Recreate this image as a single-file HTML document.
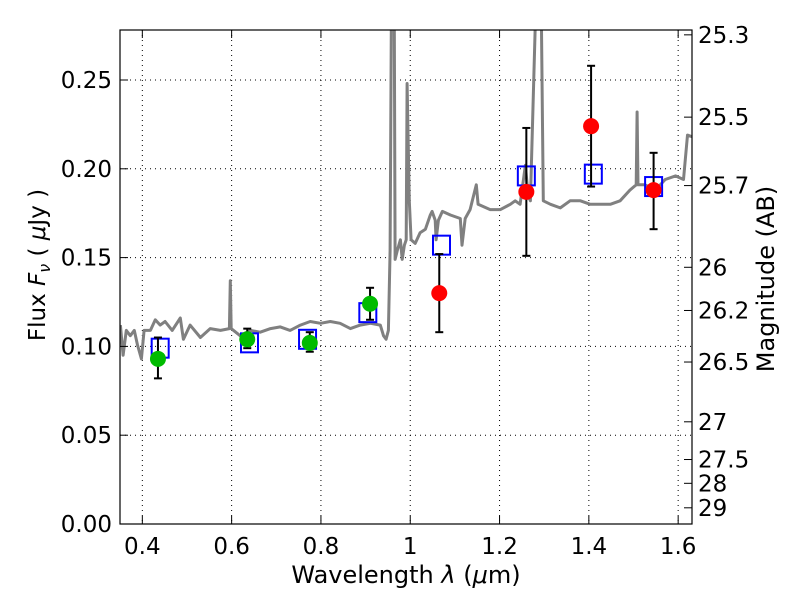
<!DOCTYPE html>
<html><head><meta charset="utf-8"><style>
body{margin:0;background:#fff}
svg text{font-family:"DejaVu Sans","Liberation Sans",sans-serif;fill:#000}
</style></head><body>
<svg id="chart" width="800" height="600" xmlns="http://www.w3.org/2000/svg">
<defs><clipPath id="clip"><rect x="120" y="30" width="572" height="494"/></clipPath></defs>
<g id="grid"></g>
<g id="plot" clip-path="url(#clip)"></g>
<g id="marks"></g>
<rect x="120" y="30" width="572" height="494" fill="none" stroke="#000" stroke-width="1.2"/>
<g id="axes"></g>
<text x="406" y="583" font-size="24" text-anchor="middle">Wavelength  <tspan font-style="italic">λ</tspan> (<tspan font-style="italic">μ</tspan>m)</text>
<text transform="translate(45,265) rotate(-90)" font-size="23" text-anchor="middle">Flux  <tspan font-style="italic">F<tspan font-size="16" dy="5">ν</tspan></tspan><tspan dy="-5">  (  <tspan font-style="italic">μ</tspan>Jy )</tspan></text>
<text transform="translate(774,279) rotate(-90)" font-size="24" text-anchor="middle">Magnitude (AB)</text>
</svg>
<script>
const specLam=[0.351,0.357,0.364,0.373,0.382,0.389,0.398,0.404,0.418,0.429,0.440,0.451,0.467,0.485,0.492,0.507,0.530,0.552,0.575,0.595,0.597,0.599,0.619,0.642,0.664,0.687,0.709,0.731,0.754,0.776,0.799,0.821,0.843,0.866,0.888,0.911,0.933,0.940,0.946,0.951,0.955,0.958,0.964,0.966,0.971,0.978,0.982,0.987,0.991,0.993,0.998,1.002,1.011,1.022,1.034,1.045,1.049,1.056,1.058,1.063,1.072,1.090,1.112,1.116,1.123,1.134,1.148,1.152,1.179,1.202,1.224,1.235,1.246,1.258,1.264,1.269,1.282,1.293,1.298,1.314,1.336,1.358,1.381,1.403,1.425,1.448,1.470,1.492,1.506,1.508,1.510,1.526,1.549,1.571,1.594,1.612,1.621,1.632];
const specFlux=[0.112,0.095,0.109,0.106,0.109,0.101,0.093,0.109,0.109,0.115,0.112,0.114,0.109,0.116,0.104,0.112,0.105,0.110,0.109,0.110,0.137,0.110,0.106,0.109,0.108,0.110,0.111,0.109,0.112,0.114,0.113,0.114,0.113,0.110,0.112,0.113,0.112,0.106,0.104,0.109,0.154,0.300,0.300,0.149,0.154,0.160,0.149,0.157,0.160,0.248,0.182,0.160,0.158,0.164,0.166,0.174,0.176,0.171,0.160,0.171,0.176,0.174,0.172,0.157,0.172,0.177,0.191,0.180,0.177,0.177,0.180,0.182,0.180,0.202,0.185,0.182,0.300,0.300,0.182,0.180,0.178,0.182,0.182,0.180,0.180,0.180,0.182,0.188,0.191,0.232,0.191,0.191,0.188,0.194,0.196,0.194,0.219,0.218];
const photLam=[0.435,0.635,0.775,0.91,1.065,1.26,1.405,1.545];
const photFlux=[0.093,0.104,0.102,0.124,0.130,0.187,0.224,0.188];
const errLo=[0.082,0.099,0.097,0.115,0.108,0.151,0.190,0.166];
const errHi=[0.105,0.110,0.108,0.133,0.152,0.223,0.258,0.209];
const photColor=['green','green','green','green','red','red','red','red'];
const modelLam=[0.44,0.64,0.77,0.905,1.07,1.26,1.41,1.545];
const modelFlux=[0.099,0.102,0.104,0.119,0.157,0.196,0.197,0.190];
const xTicks=[0.4,0.6,0.8,1.0,1.2,1.4,1.6];
const xTickLabels=['0.4','0.6','0.8','1','1.2','1.4','1.6'];
const yTicks=[0,0.05,0.10,0.15,0.20,0.25];
const yTickLabels=['0.00','0.05','0.10','0.15','0.20','0.25'];
const magTicks=[25.3,25.5,25.7,26,26.2,26.5,27,27.5,28,29];

const NS='http://www.w3.org/2000/svg';
const X=l=>120+(l-0.35)/(1.631-0.35)*572;
const Y=f=>524-f/0.27815*494;
const magToFlux=m=>Math.pow(10,(23.9-m)/2.5);
function mk(tag,attrs,parent){const e=document.createElementNS(NS,tag);for(const k in attrs)e.setAttribute(k,attrs[k]);parent.appendChild(e);return e;}
const grid=document.getElementById('grid'),plot=document.getElementById('plot'),marks=document.getElementById('marks'),axes=document.getElementById('axes');
xTicks.forEach((t,i)=>{
  const x=X(t);
  const g=mk('line',{x1:x,x2:x,y1:30,y2:524,stroke:'#000','stroke-width':1,'stroke-dasharray':'1,4'},grid);
  
  
  const tk=mk('line',{x1:x,x2:x,y1:524,y2:516,stroke:'#000'},axes);
  
  
  mk('line',{x1:x,x2:x,y1:30,y2:38,stroke:'#000'},axes);
  const tx=mk('text',{x:x,y:554,'font-size':23,'text-anchor':'middle'},axes);
  tx.textContent=xTickLabels[i];
  
  
});
yTicks.forEach((t,i)=>{
  const y=Y(t);
  const g=mk('line',{x1:120,x2:692,y1:y,y2:y,stroke:'#000','stroke-width':1,'stroke-dasharray':'1,4'},grid);
  
  
  const tk=mk('line',{x1:120,x2:128,y1:y,y2:y,stroke:'#000'},axes);
  
  
  const tx=mk('text',{x:112,y:y+8,'font-size':23,'text-anchor':'end'},axes);
  tx.textContent=yTickLabels[i];
  
  
});
magTicks.forEach(m=>{
  const y=Y(magToFlux(m));
  const tk=mk('line',{x1:684,x2:692,y1:y,y2:y,stroke:'#000'},axes);
  
  
  const tx=mk('text',{x:698,y:y+8,'font-size':23},axes);
  tx.textContent=String(m);
  
  
});
const pts=specLam.map((l,i)=>X(l).toFixed(1)+','+Y(specFlux[i]).toFixed(1)).join(' ');
const sp=mk('polyline',{points:pts,fill:'none',stroke:'#808080','stroke-width':3,'stroke-linejoin':'round'},plot);


modelLam.forEach((l,i)=>{
  const r=mk('rect',{x:X(l)-8.5,y:Y(modelFlux[i])-9.5,width:17,height:19,fill:'none',stroke:'#0000ff','stroke-width':2},marks);
  
  
});
photLam.forEach((l,i)=>{
  const x=X(l);
  const g=mk('g',{stroke:'#000','stroke-width':2},marks);
  
  
  mk('line',{x1:x,x2:x,y1:Y(errLo[i]),y2:Y(errHi[i])},g);
  mk('line',{x1:x-4,x2:x+4,y1:Y(errLo[i]),y2:Y(errLo[i])},g);
  mk('line',{x1:x-4,x2:x+4,y1:Y(errHi[i]),y2:Y(errHi[i])},g);
});
photLam.forEach((l,i)=>{
  const c=mk('circle',{cx:X(l),cy:Y(photFlux[i]),r:8,fill:photColor[i]==='green'?'#00bb00':'#ff0000'},marks);
  
  
});
</script>
</body></html>
